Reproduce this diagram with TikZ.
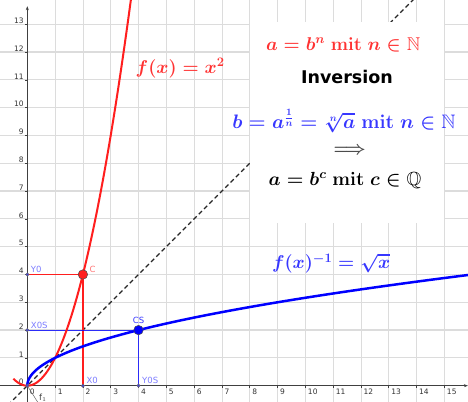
\RequirePackage{fix-cm}
\documentclass[tikz,border=0pt]{standalone}
\usepackage{amsmath,amssymb}
\usepackage{fontspec}
\newfontfamily\dejavu{DejaVu Sans}
\usetikzlibrary{arrows.meta}
\definecolor{cred}{RGB}{255,30,30}
\definecolor{tred}{RGB}{255,50,50}
\definecolor{cblue}{RGB}{0,0,255}
\definecolor{tblue}{RGB}{55,55,255}
\definecolor{lblue}{RGB}{125,125,255}
\definecolor{lred}{RGB}{255,120,120}
\definecolor{gridc}{RGB}{220,220,220}
\definecolor{ptc}{RGB}{70,70,200}
\tikzset{
  ticklab/.style={font=\dejavu\fontsize{7.5}{8}\selectfont, text=black!80, inner sep=0.5pt},
  ptlab/.style={font=\dejavu\fontsize{8.5}{9}\selectfont, inner sep=0.5pt},
  bigmath/.style={font=\fontsize{18.5}{22}\selectfont\boldmath, inner sep=0pt},
  smallpt/.style={circle, fill=ptc, draw=black!60, line width=0.3pt, minimum size=3.5pt, inner sep=0pt},
  bigpt/.style={circle, draw=black!70, line width=0.5pt, minimum size=9.5pt, inner sep=0pt}
}
\begin{document}
\begin{tikzpicture}[x=27.8pt,y=27.8pt]
\useasboundingbox (-0.982,-0.586) rectangle (15.853,13.874);
\fill[white] (-0.982,-0.586) rectangle (15.853,13.874);
% grid
\foreach \i in {1,...,15} \draw[gridc, line width=0.7pt] (\i,-0.586) -- (\i,13.874);
\foreach \j in {1,...,13} \draw[gridc, line width=1.2pt] (-0.982,\j) -- (15.853,\j);
% dashed identity line
\draw[black!85, line width=1.1pt, dash pattern=on 4.5pt off 3pt] (-0.7,-0.7) -- (13.95,13.95);
% white text box
\fill[white] (8.0,5.85) rectangle (15.0,13.08);
% axes
\draw[black!75, line width=0.8pt, -{Stealth[length=4pt,width=3pt]}] (-0.982,0) -- (15.85,0);
\draw[black!75, line width=0.8pt, -{Stealth[length=4pt,width=3pt]}] (0,-0.586) -- (0,13.65);
\foreach \i in {1,...,15} {
  \draw[black!75, line width=0.6pt] (\i,0) -- (\i,-0.1);
  \node[ticklab, anchor=north west] (xl\i) at ([xshift=2pt,yshift=-3pt]\i,0) {\i};
}
\foreach \j in {1,...,13} {
  \draw[black!75, line width=0.6pt] (0,\j) -- (-0.1,\j);
  \node[ticklab, anchor=south east] (yl\j) at ([xshift=-3pt]0,\j) {\j};
}
\node[ticklab, anchor=south east] (y0) at ([xshift=-3pt]0,0) {0};
\node[ticklab, anchor=north west] (x0l) at ([xshift=2pt,yshift=-3pt]0,0) {0};
% f1
\coordinate (O) at (0,0);
\coordinate (f1end) at (0.38,-0.6);
\draw[black!60, line width=0.5pt] (O) -- (f1end);
\node[font=\dejavu\fontsize{8.5}{9}\selectfont, text=black!75, anchor=west, inner sep=0pt] (f1) at (0.42,-0.42) {f$_1$};
% helper lines
\coordinate (Y0) at (0,4);
\coordinate (X0) at (2,0);
\coordinate (C) at (2,4);
\coordinate (X0S) at (0,2);
\coordinate (Y0S) at (4,0);
\coordinate (CS) at (4,2);
\draw[cred, line width=1.3pt] (Y0) -- (C) -- (X0);
\draw[cblue, line width=1.1pt, draw opacity=0.8] (X0S) -- (CS) -- (Y0S);
% curves
\draw[cred, line width=2pt] plot[domain=-0.5:3.73, samples=120, smooth] (\x,{\x*\x});
\draw[cblue, line width=2.5pt] plot[domain=0:3.99, samples=120, smooth] ({\x*\x},\x);
% points
\node[smallpt] (pY0) at (Y0) {};
\node[smallpt] (pX0) at (X0) {};
\node[smallpt] (pX0S) at (X0S) {};
\node[smallpt] (pY0S) at (Y0S) {};
\node[smallpt] (pO) at (O) {};
\node[bigpt, fill=cred] (pC) at (C) {};
\node[bigpt, fill=cblue] (pCS) at (CS) {};
\node[ptlab, text=lblue, anchor=south west] (lY0) at ([xshift=3pt,yshift=1pt]Y0) {Y0};
\node[ptlab, text=lblue, anchor=south west] (lX0) at ([xshift=3pt,yshift=1pt]X0) {X0};
\node[ptlab, text=lblue, anchor=south west] (lX0S) at ([xshift=3pt,yshift=1pt]X0S) {X0S};
\node[ptlab, text=lblue, anchor=south west] (lY0S) at ([xshift=3pt,yshift=1pt]Y0S) {Y0S};
\node[ptlab, text=lred, anchor=south west] (lC) at ([xshift=6pt,yshift=1pt]C) {C};
\node[ptlab, text=tblue, anchor=south] (lCS) at ([yshift=6pt]CS) {CS};
% formulas
\node[bigmath, text=tred] (fx) at (5.5,11.43) {$f(x)=x^2$};
\node[bigmath, text=tblue] (finv) at (10.93,4.4) {$f(x)^{-1}=\sqrt{x}$};
\node[bigmath, text=tred] (t1) at (11.36,12.26) {$a=b^n\ \mathbf{mit}\ n\in\mathbb{N}$};
\node[font=\dejavu\bfseries\fontsize{17.5}{19}\selectfont, inner sep=0pt] (t2) at (11.5,11.1) {Inversion};
\node[bigmath, font=\fontsize{19.5}{23}\selectfont\boldmath, text=tblue] (t3) at (11.39,9.6) {$\smash[b]{b=a^{\frac{1}{n}}=\sqrt[n]{a}\ \mathbf{mit}\ n\in\mathbb{N}}$};
\node[bigmath, text=black!70] (t4) at (11.6,8.45) {$\Longrightarrow$};
\node[bigmath, font=\fontsize{19}{22}\selectfont\boldmath, text=black] (t5) at (11.43,7.37) {$a=b^c\ \mathbf{mit}\ c\in\mathbb{Q}$};
\end{tikzpicture}
\end{document}
